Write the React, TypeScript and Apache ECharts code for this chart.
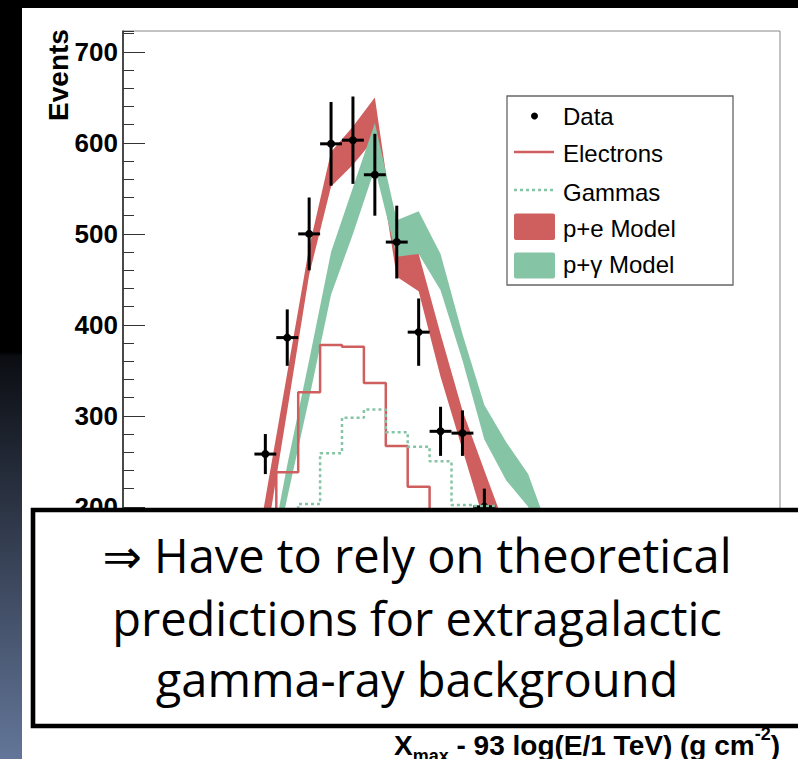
import React, { useEffect, useRef } from "react";
import * as echarts from "echarts";

// Bin width of the depth histogram (g cm^-2); bins are stored by their centres.
const BIN_WIDTH = 20;
const X_MIN = 200;
const X_MAX = 800;
const Y_MAX = 723;
const Y_MAJOR = 100;
const Y_MINOR = 20;
// Tick labels below this value sit behind the statement box
const Y_LABEL_FLOOR = 200;

// Measured distribution with statistical errors
const dataX = [330, 350, 370, 390, 410, 430, 450, 470, 490, 510, 530];
const dataEvents = [258, 386, 500, 599, 603, 565, 491, 392, 283, 281, 200];
const dataError = [22, 31, 40, 46, 48, 45, 40, 37, 27, 25, 20];

// Simulated electron showers
const electronX = [330, 350, 370, 390, 410, 430, 450, 470, 490];
const electronEvents = [150, 238, 326, 378, 376, 336, 267, 222, 160];

// Simulated gamma showers
const gammaX = [350, 370, 390, 410, 430, 450, 470, 490, 510, 530, 550];
const gammaEvents = [150, 203, 259, 298, 307, 282, 266, 250, 202, 201, 150];

// p+e model band (lower / upper edge)
const peModelX = [310, 330, 350, 370, 390, 410, 430, 450, 470, 490, 510, 530, 550];
const peModelLow = [40, 158, 306, 455, 552, 576, 605, 453, 437, 343, 263, 183, 120];
const peModelHigh = [70, 209, 347, 485, 590, 618, 650, 485, 478, 390, 306, 240, 175];

// p+gamma model band (lower / upper edge)
const pgModelX = [330, 350, 370, 390, 410, 430, 450, 470, 490, 510, 530, 550, 570, 590];
const pgModelLow = [95, 210, 319, 433, 500, 572, 475, 478, 438, 361, 274, 229, 200, 140];
const pgModelHigh = [120, 246, 361, 480, 551, 622, 515, 525, 478, 390, 312, 271, 236, 170];

const RED = "#cf5e5e";
const GREEN = "#86c4a6";
const AXIS_FONT = "Liberation Sans";

const pairs = (xs: number[], ys: number[]) => xs.map((x, i) => [x, ys[i]]);

// A model band: one filled polygon following the upper edge left to right
// and the lower edge back again.
function bandSeries(name: string, xs: number[], lo: number[], hi: number[], color: string) {
  return {
    type: "custom",
    name,
    data: xs.map((x, i) => [x, lo[i], hi[i]]),
    encode: { x: 0, y: [1, 2] },
    silent: true,
    renderItem: (params: any, api: any) => {
      if (params.dataIndex !== 0) return null;
      const upper = xs.map((x, i) => api.coord([x, hi[i]]));
      const lower = xs.map((x, i) => api.coord([x, lo[i]])).reverse();
      return {
        type: "polygon",
        shape: { points: upper.concat(lower) },
        style: { fill: color, stroke: "none" },
      };
    },
  };
}

function buildOption() {
  const legendRows = [116.5, 153.5, 192, 228.3, 264.7];
  const legendText = (text: string, y: number) => ({
    type: "text",
    x: 563,
    y,
    z: 51,
    style: {
      text,
      fill: "#000",
      font: `24px "${AXIS_FONT}"`,
      align: "left",
      verticalAlign: "middle",
    },
  });

  const boxLines = [
    { text: "\u21D2 Have to rely on theoretical", y: 555 },
    { text: "predictions for extragalactic", y: 618 },
    { text: "gamma-ray background", y: 679 },
  ];

  return {
    animation: false,
    backgroundColor: "transparent",
    grid: {
      left: 123,
      right: 18,
      top: 31,
      bottom: 70.2,
      show: true,
      borderColor: "#888",
      borderWidth: 1,
      backgroundColor: "transparent",
      containLabel: false,
      outerBoundsMode: "none",
    },
    xAxis: {
      type: "value",
      min: X_MIN,
      max: X_MAX,
      interval: 100,
      axisLine: { show: true, lineStyle: { color: "#222", width: 1.5 } },
      axisTick: { show: false },
      axisLabel: { show: false },
      splitLine: { show: false },
    },
    yAxis: [
      {
        type: "value",
        min: 0,
        max: Y_MAX,
        interval: Y_MAJOR,
        position: "left",
        axisLine: { show: true, lineStyle: { color: "#222", width: 1.5 } },
        axisTick: { show: true, inside: true, length: 22, lineStyle: { color: "#333", width: 1 } },
        axisLabel: {
          show: true,
          showMaxLabel: false,
          margin: 5,
          color: "#000",
          fontFamily: AXIS_FONT,
          fontWeight: "bold",
          fontSize: 26,
          padding: [8, 0, 0, 0],
          formatter: (v: number) => (v >= Y_LABEL_FLOOR ? String(v) : ""),
        },
        splitLine: { show: false },
      },
      {
        type: "value",
        min: 0,
        max: Y_MAX,
        interval: Y_MINOR,
        position: "left",
        axisLine: { show: false },
        axisTick: { show: true, inside: true, length: 11, lineStyle: { color: "#333", width: 1 } },
        axisLabel: { show: false },
        splitLine: { show: false },
      },
    ],
    series: [
      bandSeries("p+e Model", peModelX, peModelLow, peModelHigh, RED),
      bandSeries("p+\u03B3 Model", pgModelX, pgModelLow, pgModelHigh, GREEN),
      {
        type: "line",
        name: "Electrons",
        step: "middle",
        data: pairs(electronX, electronEvents),
        symbol: "none",
        lineStyle: { color: RED, width: 2.5 },
        silent: true,
      },
      {
        type: "line",
        name: "Gammas",
        step: "middle",
        data: pairs(gammaX, gammaEvents),
        symbol: "none",
        lineStyle: { color: GREEN, width: 2.5, type: [3, 3] },
        silent: true,
      },
      {
        type: "custom",
        name: "Data",
        data: dataX.map((x, i) => [x, dataEvents[i], dataError[i]]),
        encode: { x: 0, y: 1 },
        silent: true,
        renderItem: (_params: any, api: any) => {
          const x = api.value(0);
          const y = api.value(1);
          const e = api.value(2);
          const c = api.coord([x, y]);
          const l = api.coord([x - BIN_WIDTH / 2, y]);
          const r = api.coord([x + BIN_WIDTH / 2, y]);
          const t = api.coord([x, y + e]);
          const b = api.coord([x, y - e]);
          return {
            type: "group",
            children: [
              { type: "line", shape: { x1: l[0], y1: l[1], x2: r[0], y2: r[1] }, style: { stroke: "#000", lineWidth: 3 } },
              { type: "line", shape: { x1: t[0], y1: t[1], x2: b[0], y2: b[1] }, style: { stroke: "#000", lineWidth: 3 } },
              { type: "circle", shape: { cx: c[0], cy: c[1], r: 4 }, style: { fill: "#000" } },
            ],
          };
        },
      },
    ],
    graphic: [
      // y-axis title
      {
        type: "text",
        x: 58,
        y: 75,
        rotation: Math.PI / 2,
        z: 50,
        style: {
          text: "Events",
          fill: "#000",
          font: `bold 28px "${AXIS_FONT}"`,
          align: "center",
          verticalAlign: "middle",
        },
      },
      // legend
      {
        type: "rect",
        z: 50,
        shape: { x: 507, y: 96, width: 226, height: 189 },
        style: { fill: "#fff", stroke: "#666", lineWidth: 1.3 },
      },
      { type: "circle", z: 51, shape: { cx: 534.5, cy: 116, r: 3.5 }, style: { fill: "#000" } },
      legendText("Data", legendRows[0]),
      { type: "line", z: 51, shape: { x1: 514, y1: 152, x2: 554, y2: 152 }, style: { stroke: RED, lineWidth: 2.5 } },
      legendText("Electrons", legendRows[1]),
      { type: "line", z: 51, shape: { x1: 514, y1: 190, x2: 554, y2: 190 }, style: { stroke: GREEN, lineWidth: 2.5, lineDash: [3, 3] } },
      legendText("Gammas", legendRows[2]),
      { type: "rect", z: 51, shape: { x: 514, y: 213.5, width: 41, height: 26.5, r: 2 }, style: { fill: RED } },
      legendText("p+e Model", legendRows[3]),
      { type: "rect", z: 51, shape: { x: 514, y: 252.5, width: 41, height: 26, r: 2 }, style: { fill: GREEN } },
      legendText("p+\u03B3 Model", legendRows[4]),
      // overlay statement box
      {
        type: "rect",
        z: 100,
        shape: { x: 33, y: 510, width: 790, height: 216 },
        style: { fill: "#fff", stroke: "#000", lineWidth: 4.6 },
      },
      ...boxLines.map((ln) => ({
        type: "text",
        x: 417,
        y: ln.y,
        z: 101,
        style: {
          text: ln.text,
          fill: "#000",
          font: `47px "Open Sans", "DejaVu Sans", sans-serif`,
          align: "center",
          verticalAlign: "middle",
        },
      })),
      // x-axis title
      {
        type: "text",
        x: 780,
        y: 745,
        z: 50,
        style: {
          text: "{x|X}{sub|max}{m| - 93 log(E/1 TeV) (g cm}{sup|-2}{m|)}",
          align: "right",
          verticalAlign: "middle",
          fill: "#000",
          rich: {
            x: { fontSize: 28, fontWeight: "bold", fontFamily: AXIS_FONT, lineHeight: 40, fill: "#000" },
            m: { fontSize: 28, fontWeight: "bold", fontFamily: AXIS_FONT, lineHeight: 40, fill: "#000" },
            sub: { fontSize: 18, fontWeight: "bold", fontFamily: AXIS_FONT, lineHeight: 28, verticalAlign: "bottom", fill: "#000" },
            sup: { fontSize: 18, fontWeight: "bold", fontFamily: AXIS_FONT, lineHeight: 24, verticalAlign: "top", fill: "#000" },
          },
        },
      },
    ],
  };
}

export default function App() {
  const ref = useRef<HTMLDivElement>(null);

  useEffect(() => {
    if (!ref.current) return;
    const chart = echarts.init(ref.current, null, { renderer: "svg", width: 798, height: 759 });
    chart.setOption(buildOption() as any);
    return () => chart.dispose();
  }, []);

  return (
    <div
      style={{
        position: "fixed",
        left: 0,
        top: 0,
        width: 798,
        height: 759,
        background: "#000",
        overflow: "hidden",
      }}
    >
      <div
        style={{
          position: "absolute",
          left: 0,
          top: 0,
          width: 22,
          height: 759,
          background: "linear-gradient(to bottom, #000 0px, #000 352px, #0b0d12 356px, #637699 759px)",
        }}
      />
      <div style={{ position: "absolute", left: 22, top: 8, width: 776, height: 751, background: "#fff" }} />
      <div ref={ref} style={{ position: "absolute", left: 0, top: 0, width: 798, height: 759 }} />
    </div>
  );
}
